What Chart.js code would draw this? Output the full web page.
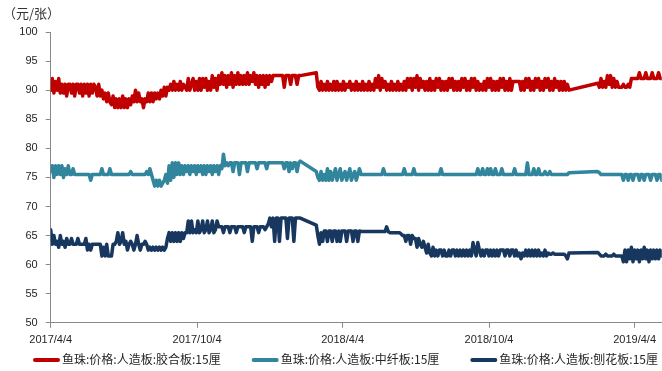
<!DOCTYPE html>
<html>
<head>
<meta charset="utf-8">
<script src="https://cdn.jsdelivr.net/npm/chart.js@4"></script>
<style>
  html, body { margin: 0; padding: 0; background: #fff; }
  #wrap { position: relative; width: 662px; height: 371px; }
  #unit { position: absolute; left: 3px; top: 3px; font: 13px "Noto Sans CJK SC", sans-serif; color: #333; }
</style>
</head>
<body>
<div id="wrap">
  <canvas id="c" width="662" height="371"></canvas>
  <div id="unit">（元/张）</div>
</div>
<script>
// One quote every 2 days from 2017/4/4; null = no quote (Spring Festival break)
const startDate = '2017/4/4';
const stepDays = 2;
const lastDay = 764;

const tickLabels = ['2017/4/4', '2017/10/4', '2018/4/4', '2018/10/4', '2019/4/4'];

const seriesNames = [
  '鱼珠:价格:人造板:胶合板:15厘',
  '鱼珠:价格:人造板:中纤板:15厘',
  '鱼珠:价格:人造板:刨花板:15厘'
];
const seriesColors = ['#C00000', '#31859C', '#17375E'];

// 胶合板 15厘 (20 quotes per row = 40 days)
const plywood = [
  90, 92, 89.5, 91.5, 90, 92, 89.5, 91, 89.5, 91, 89, 91, 91, 89.5, 91, 89, 91, 91, 89.5, 91,
  89, 91, 89.5, 91, 89, 91, 89.5, 91, 90.5, 89, 91, 89, 90, 88.5, 89.5, 88, 89.5, 88, 87.5, 89,
  87, 88.5, 87, 88.5, 87, 89, 87, 88.5, 87, 88.5, 87.5, 89, 88, 90, 88, 89.5, 88, 88.5, 87, 88.5,
  88, 89.5, 88, 89.5, 88, 89.5, 88.5, 89.5, 88.5, 90, 89, 90.5, 89, 90.5, 90, 91, 90, 91.5, 90, 91,
  90, 91.5, 90, 91, 90.5, 90, 92, 90, 91, 92, 90, 91.5, 90, 92, 90, 92, 90.5, 92, 90, 91.5,
  90, 92.5, 90.5, 92, 90, 92.5, 91, 93, 91, 92.5, 90.5, 92.5, 91, 93, 90.5, 92.5, 91, 93, 91, 92.5,
  91, 92.5, 91, 93, 91, 92.5, 91.5, 93, 91, 92.5, 90.5, 92.5, 91, 92.5, 90.5, 92.5, 91, 92.5, 91.5, 92.5,
  92.5, 92.5, 92.5, 92.5, 92.5, 92.5, 90.5, 92.5, 92.5, 92.5, 91, 92.5, 92.5, 92.5, 91, 92.5, 92.5, null, null, null,
  null, null, null, null, null, null, 93, 90.5, 90, 91.5, 90, 91, 90, 91.5, 90, 91, 90, 91.5, 90, 91.5,
  90, 91, 90, 91.5, 90, 91, 90.5, 91.5, 90, 91, 90, 91.5, 90, 91, 90, 91.5, 90, 91, 90, 91.5,
  90, 91, 90, 92, 90.5, 92.5, 90, 92, 90.5, 91.5, 90, 91, 90, 91.5, 90, 91, 90, 91.5, 90, 91,
  90, 91.5, 90, 92, 90.5, 92, 90, 92, 90.5, 92.5, 90, 92, 90.5, 91.5, 90, 91.5, 90, 92, 90, 91.5,
  90, 92, 90.5, 92, 90, 91.5, 90, 91.5, 90, 92, 90.5, 92, 90, 91.5, 90, 91.5, 90, 92, 90.5, 92,
  90, 91.5, 90, 92, 90.5, 92, 90, 91.5, 90, 91, 90, 91.5, 90, 92, 90.5, 92, 90, 91.5, 90, 91.5,
  90, 92, 90.5, 92, 90, 91.5, 90, 92, 90, 91.5, 91.5, 91.5, 91.5, 91.5, 90, 91.5, 90, 92, 90.5, 92,
  90, 91.5, 90, 92, 90.5, 92, 90, 91.5, 90, 92, 90.5, 92, 90, 91.5, 90, 92, 90.5, 91.5, 90, 91.5,
  90, 91.5, 90, 91, 90, null, null, null, null, null, null, null, null, null, null, null, null, null, null, null,
  null, null, 91.2, 90.5, 92, 90.5, 91.5, 90.5, 92.5, 91, 92.5, 90.5, 92, 90.5, 91.5, 90.5, 90.5, 90.5, 91, 90.5,
  90.5, 91, 90.5, 92, 92, 92, 92, 92, 93, 92, 92, 92, 93, 92, 92, 92, 93, 92, 92, 92,
  93, 92, 92
];

// 中纤板 15厘
const mdf = [
  76, 77, 75, 77, 75.5, 77, 75.5, 77, 75, 76.5, 75.5, 77, 75.5, 75.5, 76.5, 75.5, 75.5, 75.5, 75.5, 75.5,
  75.5, 75.5, 75.5, 75.5, 75.5, 74.5, 75.5, 75.5, 75.5, 75.5, 75.5, 75.5, 76.5, 75.5, 75.5, 75.5, 75.5, 76.5, 75.5, 75.5,
  75.5, 75.5, 75.5, 75.5, 75.5, 75.5, 75.5, 75.5, 75.5, 75.5, 76, 75.5, 75.5, 75.5, 75.5, 75.5, 75.5, 75.5, 75.5, 75.5,
  76, 75.5, 76.5, 75.5, 74.5, 73.5, 74.5, 73.5, 74.5, 73.5, 74, 74.5, 75.5, 74, 77, 74.5, 77.5, 75, 77.5, 75.5,
  77.5, 75.5, 77, 75.5, 77, 76, 77, 75.5, 77, 76, 77, 75.5, 77, 76, 77, 75.5, 77, 75.5, 77, 76,
  77, 75.5, 77, 76, 77, 75.5, 77, 76.5, 79, 77, 77.5, 77, 77.5, 77.5, 76, 77.5, 77.5, 77.5, 75.5, 77.5,
  77.5, 77.5, 77.5, 76, 77.5, 77.5, 77.5, 77.5, 77.5, 76.5, 77.5, 77.5, 77.5, 77.5, 77.5, 76.5, 77.5, 77.5, 77.5, 77.5,
  77.5, 77.5, 77.5, 77.5, 77.5, 77.5, 76.5, 77.5, 77.5, 76, 77.5, 76.5, 77.5, 77.5, 76, 77.5, 77.8, null, null, null,
  null, null, null, null, null, null, 76, 75, 74.5, 76, 74.5, 75.5, 74.5, 76.5, 74.5, 76, 74.5, 75.5, 76.5, 74.5,
  75.5, 76.5, 74.5, 75.5, 76, 74.5, 75.5, 76.5, 74.5, 75.5, 76, 74.5, 75.5, 76.5, 75.5, 75.5, 75.5, 75.5, 75.5, 75.5,
  75.5, 75.5, 75.5, 75.5, 75.5, 75.5, 75.5, 75.5, 76.5, 75.5, 75.5, 75.5, 75.5, 75.5, 75.5, 75.5, 75.5, 75.5, 75.5, 75.5,
  75.5, 76.5, 75.5, 75.5, 75.5, 75.5, 75.5, 76.5, 75.5, 75.5, 75.5, 75.5, 75.5, 75.5, 75.5, 75.5, 75.5, 75.5, 75.5, 75.5,
  75.5, 75.5, 75.5, 75.5, 76.5, 75.5, 75.5, 75.5, 75.5, 75.5, 75.5, 75.5, 75.5, 75.5, 75.5, 75.5, 75.5, 75.5, 75.5, 75.5,
  75.5, 75.5, 75.5, 75.5, 75.5, 75.5, 75.5, 76.5, 75.5, 75.5, 76.5, 75.5, 75.5, 76.5, 75.5, 76.5, 75.5, 75.5, 76.5, 75.5,
  75.5, 75.5, 76.5, 75.5, 75.5, 75.5, 75.5, 75.5, 75.5, 75.5, 76.5, 75.5, 75.5, 75.5, 75.5, 75.5, 75.5, 75.5, 77.5, 75.5,
  75.5, 75.5, 76.5, 75.5, 75.5, 76.5, 75.5, 75.5, 75.5, 76, 75.5, 75.5, 76, 75.5, 75.5, 75.5, 75.5, 75.5, 75.5, 75.5,
  75.5, 75.5, 75.5, 75.5, 75.8, null, null, null, null, null, null, null, null, null, null, null, null, null, null, null,
  null, null, 76, 75.8, 75.5, 75.5, 75.5, 75.5, 75.5, 75.5, 75.5, 75.5, 75.5, 75.5, 75.5, 75.5, 75.5, 75.5, 74.5, 75.5,
  75.5, 74.5, 75.5, 75.5, 74.5, 75.5, 75.5, 75.5, 74.5, 75.5, 75.5, 74.5, 75.5, 75.5, 75.5, 74.5, 75.5, 75.5, 75.5, 74.5,
  75.5, 75.5, 74.5
];

// 刨花板 15厘
const particleboard = [
  66, 63.5, 65, 63.5, 64, 63, 65, 63.5, 64, 63, 64.5, 63.5, 63.5, 64.5, 63.5, 63.5, 63.5, 64.5, 63.5, 63.5,
  63.5, 63.5, 64.5, 62.5, 63.5, 62.5, 63.5, 63.5, 63.5, 63.5, 63.5, 63.5, 61.5, 63, 61.5, 63.5, 61.5, 61.5, 61.5, 63.5,
  63.5, 64, 65.5, 63.5, 64, 65.5, 63.5, 64, 62.5, 63.5, 64, 63.5, 62.5, 63.5, 65, 63.5, 62.5, 63.5, 63.5, 64,
  63.5, 62.5, 63, 62.5, 63, 62.5, 63, 62.5, 63, 62.5, 63, 62.5, 63, 64.5, 65.5, 64, 65.5, 64, 65.5, 64,
  65.5, 64, 65.5, 64.5, 65.5, 65.5, 67.5, 65.5, 67.5, 65.5, 66, 65.5, 67.5, 65.5, 66, 67.5, 65.5, 66, 67.5, 65.5,
  66, 67.5, 65.5, 66, 67.5, 66.5, 66.5, 66.5, 65.5, 66.5, 66.5, 66.5, 65.5, 66.5, 66.5, 66.5, 65.5, 66.5, 66.5, 66.5,
  66.5, 65.5, 66.5, 66.5, 66.5, 66.5, 64, 66.5, 66.5, 66.5, 65.5, 66.5, 66.5, 66.5, 66, 66.5, 67, 68, 66.5, 68,
  64, 68, 68, 64, 68, 68, 68, 68, 64.5, 68, 68, 68, 64, 68, 68, 68, 68, null, null, null,
  null, null, null, null, null, null, 66.8, 65, 63.5, 65.5, 64, 65.8, 65.8, 64, 65.8, 65.8, 64, 65.8, 65.8, 64,
  65.8, 64, 65.8, 65.8, 65.8, 64, 65.8, 65.8, 65.8, 64, 65.8, 65.8, 64, 65.8, 65.7, 65.7, 65.7, 65.7, 65.7, 65.7,
  65.7, 65.7, 65.7, 65.7, 65.7, 65.7, 65.7, 65.7, 65.7, 65.7, 66.5, 65.7, 65.5, 65.5, 65.5, 65.5, 65.5, 65.5, 65.5, 65.3,
  65, 65, 64, 65, 65, 63.5, 65, 64.5, 64.5, 63, 64.5, 63.5, 63, 64, 63, 62, 63.5, 62, 61.5, 63,
  61.5, 62.5, 61.5, 62.5, 62.5, 61.5, 62.5, 61.5, 61.5, 62.5, 61.5, 62.5, 62.5, 61.5, 62.5, 61.5, 62.5, 61.5, 62.5, 61.5,
  62.5, 61.5, 62.5, 61.5, 63.8, 62.5, 61.5, 63.8, 62.5, 61.5, 62.5, 61.5, 62.5, 62.5, 61.5, 62.5, 61.5, 62.5, 61.5, 62.5,
  61.5, 62.5, 62.5, 62.5, 61.5, 62.5, 62.5, 61.5, 62.5, 62.5, 61.5, 62.5, 61.5, 62, 61, 62, 61.5, 62.5, 61.5, 62.5,
  61.5, 62.5, 61.5, 62.5, 61.5, 62.5, 61.5, 62, 61.5, 62.5, 61.5, 62, 61.8, 61.8, 62, 61.8, 61.8, 61.8, 61.8, 61.8,
  61.8, 61.8, 61.5, 61, 62, null, null, null, null, null, null, null, null, null, null, null, null, null, null, null,
  null, null, 62.1, 61.8, 61.5, 61.5, 61.5, 61.8, 61.5, 61.5, 61.5, 61.5, 61.8, 61.5, 61.5, 61.5, 61.5, 61.5, 60.5, 62.5,
  60.5, 62.5, 61, 63, 60.5, 62.5, 61, 62.5, 60.5, 62.5, 61, 63, 61, 62.5, 60.5, 62.5, 61, 62.5, 61, 62.5,
  61, 62.5, 61.5
];

const seriesValues = [plywood, mdf, particleboard];

function dayOffset(label) {
  const [y, m, d] = label.split('/').map(Number);
  const [y0, m0, d0] = startDate.split('/').map(Number);
  return Math.round((Date.UTC(y, m - 1, d) - Date.UTC(y0, m0 - 1, d0)) / 86400000);
}
const tickDays = tickLabels.map(dayOffset);

const axisFont = { family: '"Liberation Sans", Arial, sans-serif', size: 11 };
const axisColor = '#898989';
const textColor = '#262626';

// Legend drawn along the bottom edge: short thick line + series name
const legendStyle = { x: 33, y: 359.5, lineLen: 27, lineWidth: 4, textGap: 2, itemGap: 31,
                      font: '12px "Noto Sans CJK SC", sans-serif' };
const bottomLegend = {
  id: 'bottomLegend',
  afterDraw(chart) {
    const ctx = chart.ctx;
    const s = legendStyle;
    ctx.save();
    ctx.font = s.font;
    ctx.textBaseline = 'middle';
    ctx.textAlign = 'left';
    let x = s.x;
    chart.data.datasets.forEach(ds => {
      ctx.strokeStyle = ds.borderColor;
      ctx.lineWidth = s.lineWidth;
      ctx.lineCap = 'round';
      ctx.beginPath();
      ctx.moveTo(x + 2, s.y + 0.5);
      ctx.lineTo(x + s.lineLen - 2, s.y + 0.5);
      ctx.stroke();
      ctx.fillStyle = textColor;
      const tx = x + s.lineLen + s.textGap;
      ctx.fillText(ds.label, tx, s.y);
      x = tx + ctx.measureText(ds.label).width + s.itemGap;
    });
    ctx.restore();
  }
};

new Chart(document.getElementById('c'), {
  type: 'line',
  data: {
    datasets: seriesValues.map((vals, k) => ({
      label: seriesNames[k],
      data: vals.map((v, i) => ({ x: i * stepDays, y: v })),
      borderColor: seriesColors[k],
      backgroundColor: seriesColors[k],
      borderWidth: 3.5,
      pointRadius: 0,
      tension: 0,
      spanGaps: true,
      borderJoinStyle: 'round',
      borderCapStyle: 'round'
    }))
  },
  plugins: [bottomLegend],
  options: {
    responsive: false,
    animation: false,
    devicePixelRatio: 1,
    layout: { padding: { left: 15, top: 32, right: 0, bottom: 18 } },
    plugins: {
      tooltip: { enabled: false },
      title: { display: false },
      legend: { display: false }
    },
    scales: {
      x: {
        type: 'linear',
        min: 0,
        max: lastDay,
        afterBuildTicks(axis) { axis.ticks = tickDays.map(v => ({ value: v })); },
        ticks: {
          autoSkip: false,
          maxRotation: 0,
          padding: 6,
          color: textColor,
          font: axisFont,
          callback(value) {
            const k = tickDays.indexOf(value);
            return k >= 0 ? tickLabels[k] : '';
          }
        },
        grid: { drawOnChartArea: false, tickLength: 5, color: axisColor },
        border: { display: true, color: axisColor, width: 1 }
      },
      y: {
        min: 50,
        max: 100,
        afterFit(axis) { axis.width = 35.7; },
        ticks: { stepSize: 5, padding: 8, color: textColor, font: axisFont },
        grid: { drawOnChartArea: false, tickLength: 5, color: axisColor },
        border: { display: true, color: axisColor, width: 1 }
      }
    }
  }
});
</script>
</body>
</html>
